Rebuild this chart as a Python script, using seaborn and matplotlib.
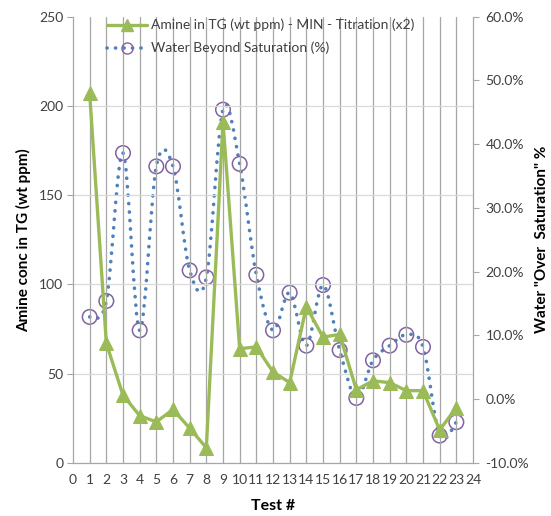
import numpy as np
import pandas as pd
import matplotlib
matplotlib.use("Agg")
import matplotlib.pyplot as plt
from matplotlib.path import Path
from matplotlib.patches import PathPatch
from matplotlib.lines import Line2D
from matplotlib.ticker import FuncFormatter
import seaborn as sns

# Test numbers
tests = list(range(1, 24))
# Amine in TG (wt ppm) - MIN - Titration (x2)
amine_ppm = [207, 67, 38, 26.5, 23, 30, 19.5, 8.5, 191, 64, 65, 51, 45, 87.5,
             70.5, 72, 41, 46, 45, 40.5, 40.5, 18.5, 31]
# Water beyond saturation (%)
water_pct = [12.9, 15.4, 38.6, 10.8, 36.5, 36.5, 20.2, 19.1, 45.4, 36.9, 19.5,
             10.8, 16.7, 8.4, 17.9, 7.7, 0.2, 6.1, 8.4, 10.1, 8.2, -5.7, -3.6]

x_ticks = list(range(0, 25))
left_ticks = [0, 50, 100, 150, 200, 250]
right_ticks = [-0.10, 0.0, 0.10, 0.20, 0.30, 0.40, 0.50, 0.60]

amine_label = "Amine in TG (wt ppm) - MIN - Titration (x2)"
water_label = "Water Beyond Saturation (%)"

GREEN = "#9BBB59"
BLUE = "#4F81BD"
PURPLE = "#8064A2"
GRID = "#A6A6A6"
SPINE = "#A6A6A6"
TEXT = "#404040"
DOTS = (0, (0.05, 2.3))

sns.set_style("white")
plt.rcParams["font.family"] = ["Lato", "DejaVu Sans"]

df = pd.DataFrame({"test": tests, "amine": amine_ppm,
                   "water": np.array(water_pct) / 100.0})

fig = plt.figure(figsize=(5.51, 5.16), dpi=100)
ax = fig.add_axes([73 / 551, 1 - 463 / 516, 400 / 551, (463 - 16.5) / 516])
ax2 = ax.twinx()

# the amine axis sits above the water axis so the green series is on top
ax.set_zorder(ax2.get_zorder() + 1)
ax.patch.set_visible(False)

# Water series: smooth dotted curve (Catmull-Rom Bezier through the points)
xs = df["test"].to_numpy(dtype=float)
ys = df["water"].to_numpy(dtype=float)
verts = [(xs[0], ys[0])]
codes = [Path.MOVETO]
n = len(xs)
for i in range(n - 1):
    p0 = (xs[max(i - 1, 0)], ys[max(i - 1, 0)])
    p1 = (xs[i], ys[i])
    p2 = (xs[i + 1], ys[i + 1])
    p3 = (xs[min(i + 2, n - 1)], ys[min(i + 2, n - 1)])
    c1 = (p1[0] + (p2[0] - p0[0]) / 6, p1[1] + (p2[1] - p0[1]) / 6)
    c2 = (p2[0] - (p3[0] - p1[0]) / 6, p2[1] - (p3[1] - p1[1]) / 6)
    verts += [c1, c2, p2]
    codes += [Path.CURVE4] * 3
curve = PathPatch(Path(verts, codes), facecolor="none", edgecolor=BLUE,
                  linewidth=2.6, linestyle=DOTS, capstyle="round", zorder=2)
ax2.add_patch(curve)
sns.scatterplot(data=df, x="test", y="water", ax=ax2, marker="o", s=110,
                facecolor="none", edgecolor=PURPLE, linewidth=1.1, zorder=3,
                legend=False)

# Amine series
sns.lineplot(data=df, x="test", y="amine", ax=ax, color=GREEN, linewidth=2.4,
             marker="^", markersize=10, markeredgecolor=GREEN, zorder=4,
             legend=False)

# axes ranges and ticks
ax.set_xlim(0, 24)
ax.set_ylim(0, 250)
ax2.set_ylim(-0.10, 0.60)
ax.set_xticks(x_ticks)
ax.set_yticks(left_ticks)
ax2.set_yticks(right_ticks)
ax2.yaxis.set_major_formatter(FuncFormatter(lambda v, _: f"{v * 100:.1f}%"))

# gridlines: every test number vertically, every 50 ppm horizontally
ax.grid(False)
ax2.grid(False)
for xv in x_ticks[1:-1]:
    ax.axvline(xv, color=GRID, linewidth=0.9, zorder=0)
for yv in left_ticks[1:-1]:
    ax.axhline(yv, color="#D9D9D9", linewidth=0.9, zorder=0)

for a in (ax, ax2):
    a.spines["top"].set_visible(False)
    for side in ("left", "right", "bottom"):
        a.spines[side].set_color(SPINE)
        a.spines[side].set_linewidth(0.9)
ax.spines["right"].set_visible(False)
ax2.spines["left"].set_visible(False)
ax2.spines["bottom"].set_visible(False)

ax.tick_params(axis="both", which="major", direction="out", length=4,
               color=SPINE, labelsize=10, labelcolor=TEXT, pad=3)
ax.tick_params(axis="x", length=4, pad=4)
ax2.tick_params(axis="y", direction="out", length=4, color=SPINE,
                labelsize=10, labelcolor=TEXT, pad=5)

ax.set_xlabel("Test #", fontsize=11.5, fontweight="bold", color="black",
              labelpad=9)
ax.set_ylabel("Amine conc in TG (wt ppm)", fontsize=11, fontweight="bold",
              color="black", labelpad=6)
ax2.set_ylabel('Water "Over  Saturation" %', fontsize=11, fontweight="bold",
               color="black", labelpad=4)

# legend
handles = [
    Line2D([], [], color=GREEN, linewidth=2.4, marker="^", markersize=8),
    Line2D([], [], color=BLUE, linewidth=2.6, linestyle=DOTS,
           dash_capstyle="round", marker="o", markersize=8,
           markerfacecolor="none", markeredgecolor=PURPLE,
           markeredgewidth=1.0),
]
leg = fig.legend(handles, [amine_label, water_label], loc="upper left",
                 bbox_to_anchor=(100 / 551, 1 - 12 / 516), frameon=False,
                 fontsize=10, handlelength=2.9, handletextpad=0.3,
                 labelspacing=0.75, borderpad=0, numpoints=1)
for t in leg.get_texts():
    t.set_color(TEXT)

fig.savefig("out.png", dpi=100)
